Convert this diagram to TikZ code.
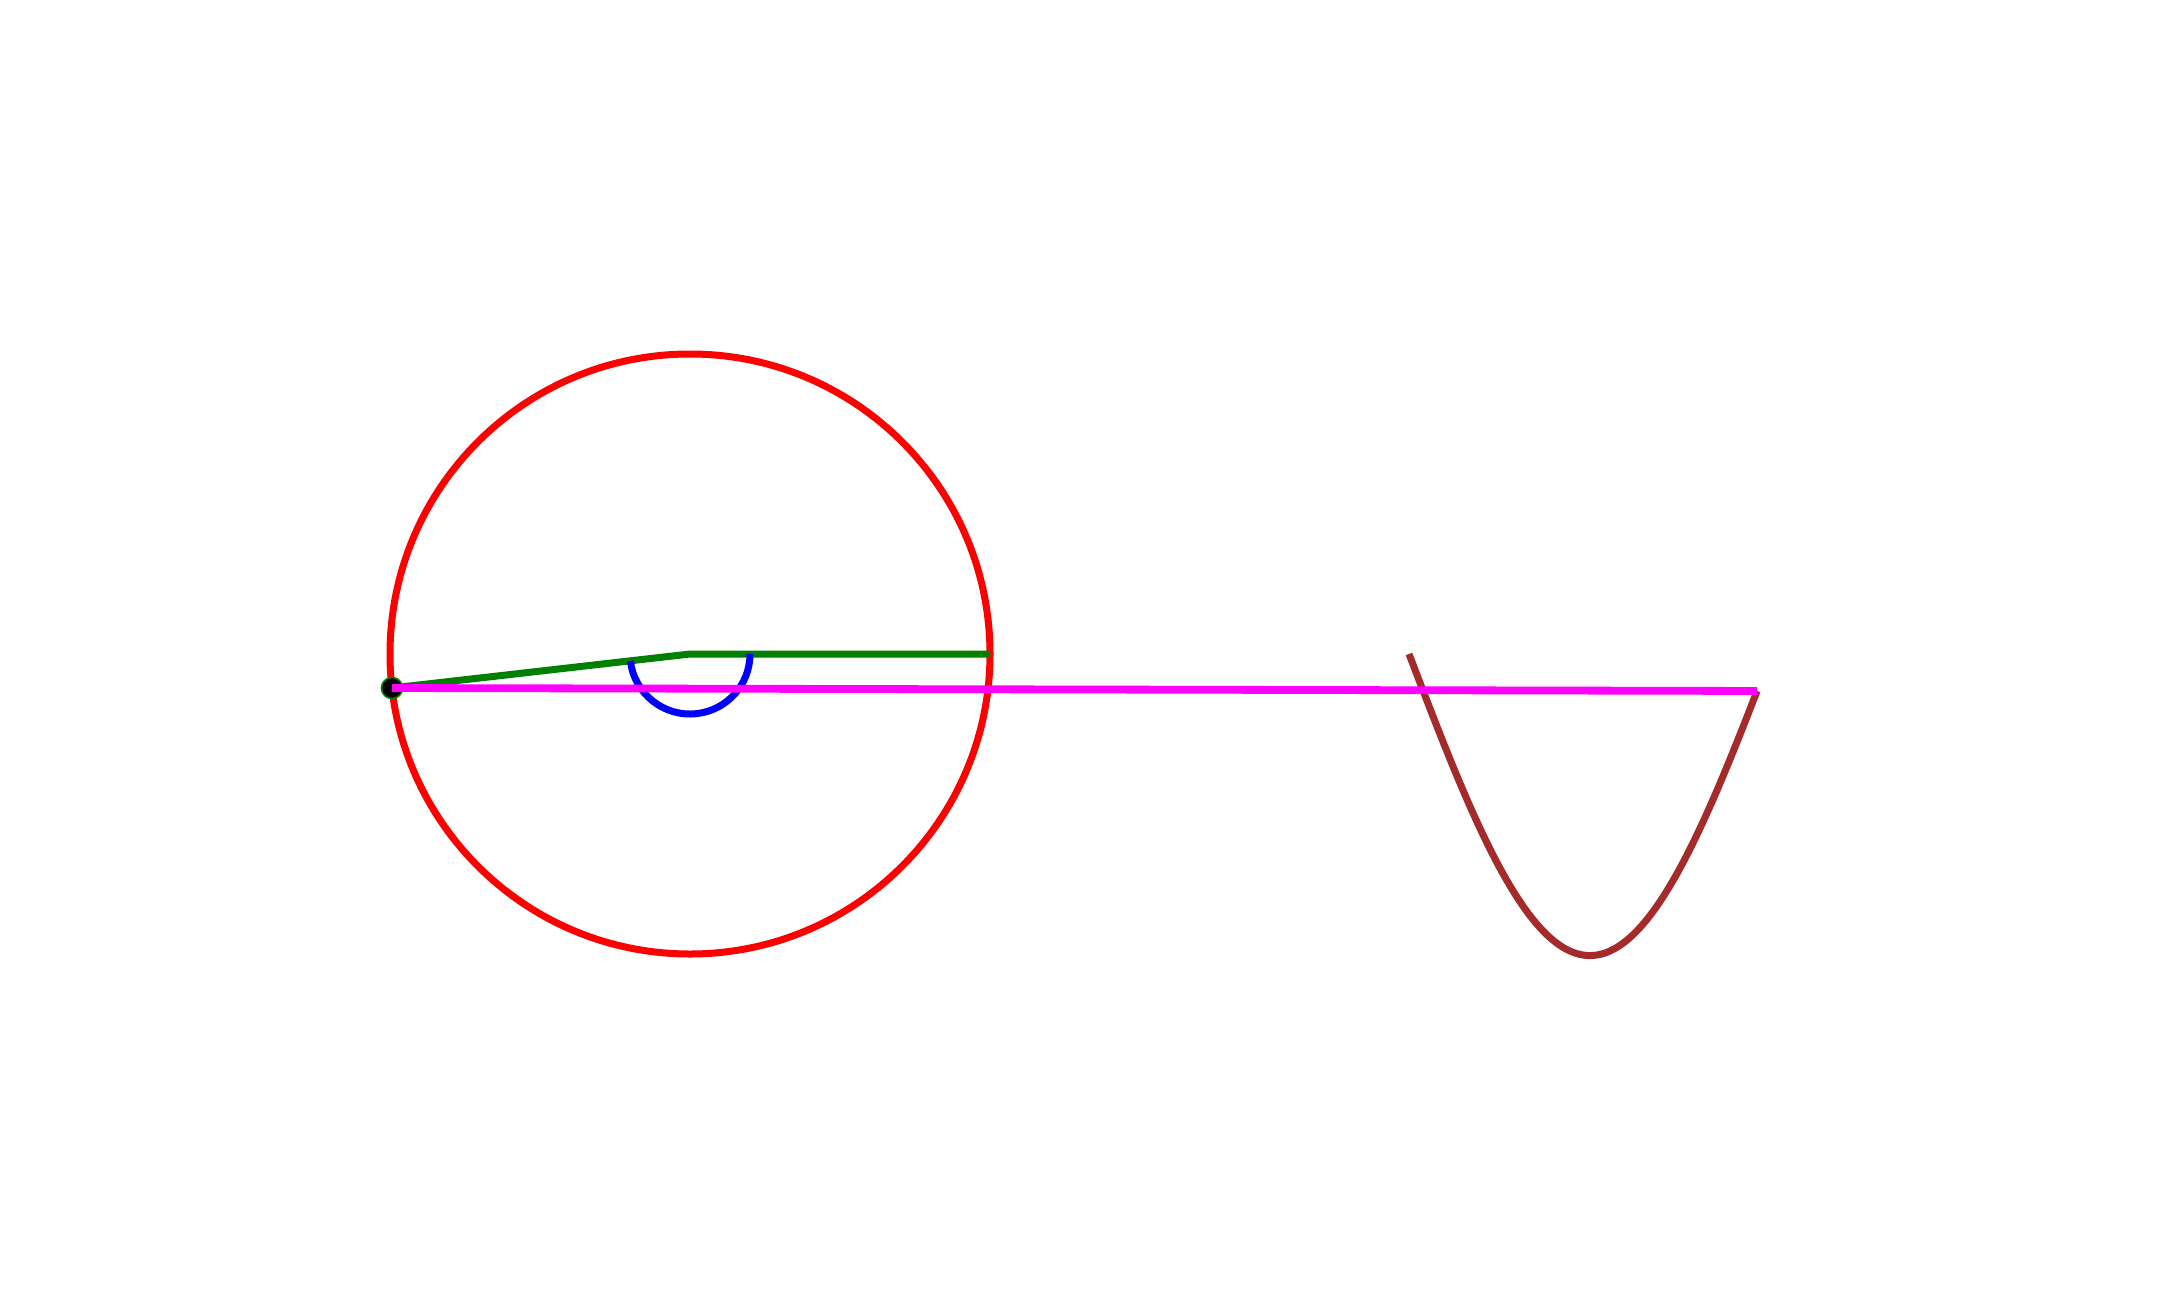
\documentclass[tikz,border=0pt]{standalone}
\usetikzlibrary{calc}
\definecolor{webgreen}{RGB}{0,128,0}
\definecolor{webbrown}{RGB}{165,42,42}
\definecolor{webmagenta}{RGB}{255,0,255}
\begin{document}
\begin{tikzpicture}[x=0.5pt,y=-0.5pt,
  stroke/.style={line width=3.5pt},
  dotstyle/.style={circle,inner sep=0pt,minimum size=10.5pt,fill=black,draw=webgreen,line width=0.8pt}]
\useasboundingbox (0,0) rectangle (2184,1290);
\coordinate (O) at (690,654);
\coordinate (E) at (990,654);
\coordinate (C1) at ({1409+2.006*173.5},{654+300*sin(173.5)+3});
% circle
\draw[stroke,red] (O) circle[radius=300];
% point on circle
\node[dotstyle] (P) at (392,688) {};
% green radii
\draw[stroke,webgreen,line cap=butt] (P.center) -- (O) -- (E);
% blue angle mark
\draw[stroke,blue] ([shift={(173.5:60)}]O) arc[start angle=173.5,end angle=0,radius=60];
% brown curve
\draw[stroke,webbrown] plot[domain=0:173.5,samples=120,smooth] ({1409+2.006*\x},{654+300*sin(\x)+3*\x/173.5});
% magenta line
\draw[line width=3.9pt,webmagenta] (P.center) -- (C1);
\end{tikzpicture}
\end{document}
